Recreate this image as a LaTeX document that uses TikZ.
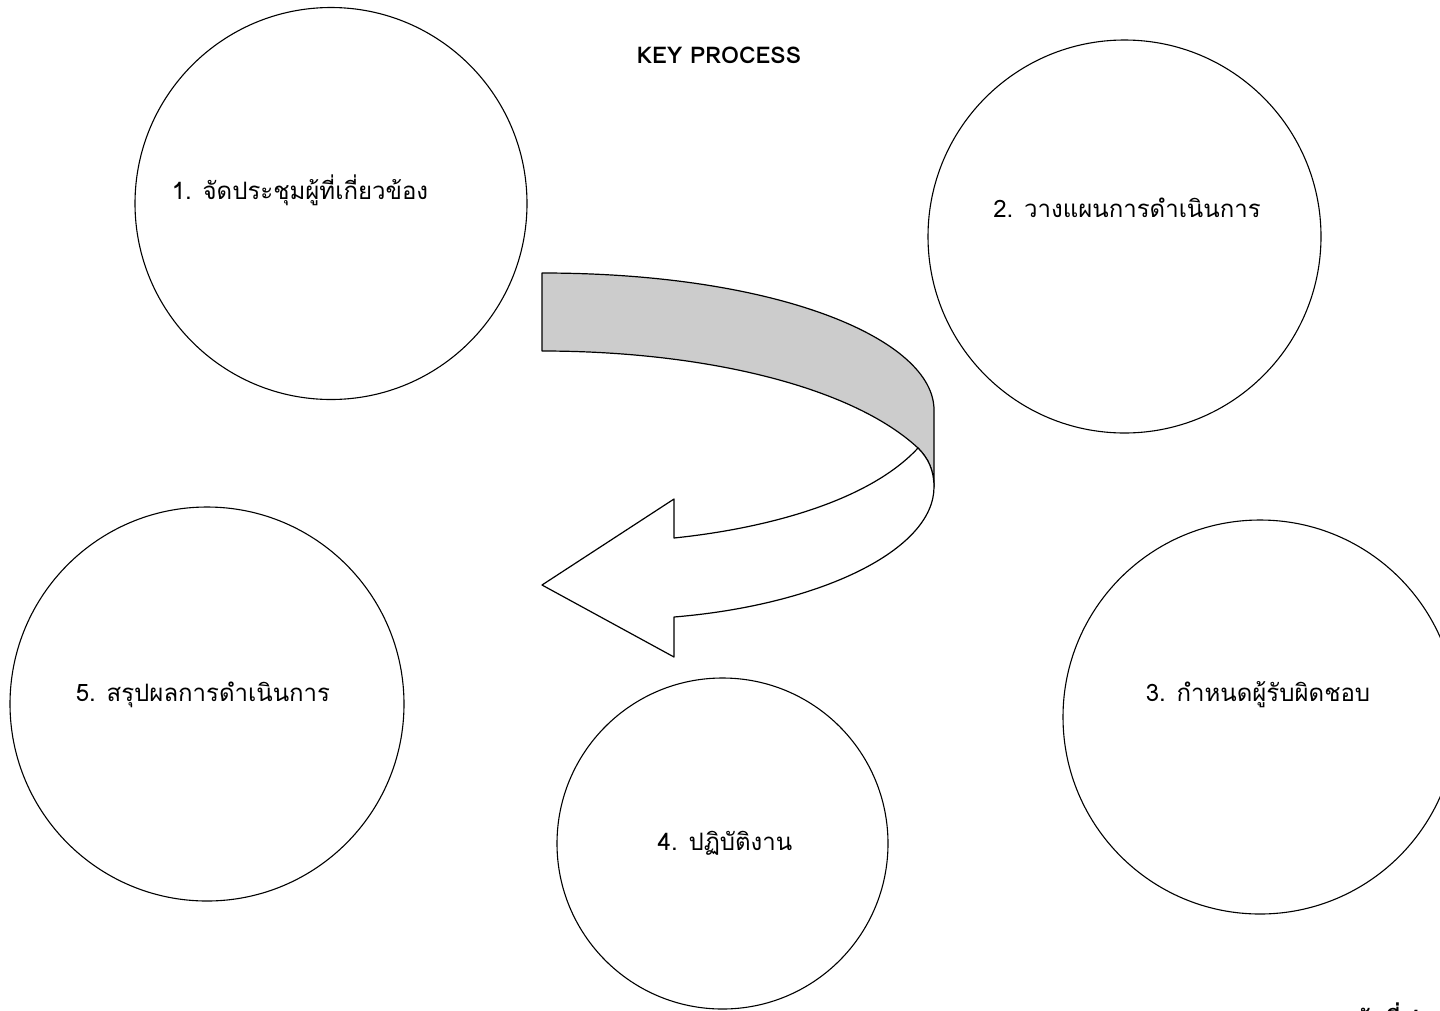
\documentclass[tikz,border=0pt]{standalone}
\usepackage{fontspec}
\setmainfont[Script=Thai]{Loma}
\usetikzlibrary{positioning}

\begin{document}
\begin{tikzpicture}[x=1pt,y=-1pt]
\tikzset{stepcircle/.style={circle, draw, line width=1.1pt, inner sep=0pt}}
\tikzset{steplabel/.style={font=\fontsize{24}{28}\selectfont, inner sep=0pt}}
\tikzset{band/.style={draw, line width=1.2pt, line join=round}}

\useasboundingbox (0,0) rectangle (1440,1010);

\node[font=\bfseries\fontsize{23}{27}\selectfont] (title) at (719,55) {KEY PROCESS};

% circles
\node[stepcircle, minimum size=392pt] (c1) at (331,203.5) {};
\node[stepcircle, minimum size=393pt] (c2) at (1124.5,236.5) {};
\node[stepcircle, minimum size=394pt] (c3) at (1260,717) {};
\node[stepcircle, minimum size=331pt] (c4) at (722.5,843.5) {};
\node[stepcircle, minimum size=394pt] (c5) at (207,704) {};

\node[steplabel] (t1) at (300,190) {1. จัดประชุมผู้ที่เกี่ยวข้อง};
\node[steplabel] (t2) at (1127,208) {2. วางแผนการดำเนินการ};
\node[steplabel] (t3) at (1258,695) {3. กำหนดผู้รับผิดชอบ};
\node[steplabel] (t4) at (725,843) {4. ปฏิบัติงาน};
\node[steplabel] (t5) at (203,695) {5. สรุปผลการดำเนินการ};

% curved arrow
\draw[band, fill=black!20] (542,273) .. controls (780,273) and (934,340) .. (934,410)
  -- (934,487) .. controls (934,470) and (928,458) .. (918,448)
  .. controls (850,385) and (700,351) .. (542,351) -- cycle;
\draw[band, fill=white] (918,448) .. controls (870,500) and (770,528) .. (674,538)
  -- (674,499) -- (542,585) -- (674,657) -- (674,617)
  .. controls (820,605) and (934,550) .. (934,487)
  .. controls (934,470) and (928,458) .. (918,448) -- cycle;

\node[font=\bfseries\fontsize{24}{28}\selectfont, anchor=base west, inner sep=0pt] (page) at (1328,1027) {ระดับที่ 1};
\end{tikzpicture}
\end{document}
